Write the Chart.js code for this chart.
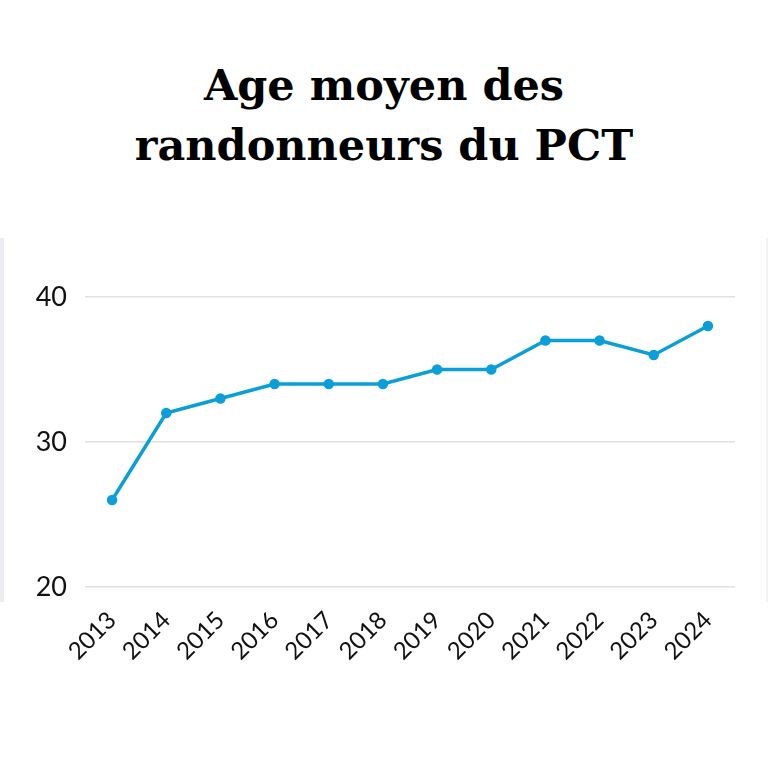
<!DOCTYPE html>
<html>
<head>
<meta charset="utf-8">
<script src="https://cdn.jsdelivr.net/npm/chart.js@4"></script>
<style>
  body { margin: 0; background: #fff; }
  #page { position: relative; width: 768px; height: 768px; overflow: hidden; }
  #title {
    position: absolute; top: 55px; left: 0; width: 768px;
    text-align: center; font-family: "DejaVu Serif", serif; font-weight: bold;
    font-size: 43px; line-height: 60px; color: #000;
  }
  #edgeLeft { position: absolute; left: 0; top: 238px; width: 4px; height: 364px; background: #ebebf2; }
  #edgeRight { position: absolute; right: 0; top: 238px; width: 2px; height: 364px; background: #f2f2f5; }
  #box { position: absolute; left: 0; top: 240px; width: 768px; height: 440px; }
</style>
</head>
<body>
<div id="page">
  <div id="title">Age moyen des<br>randonneurs du PCT</div>
  <div id="edgeLeft"></div>
  <div id="edgeRight"></div>
  <div id="box"><canvas id="line-chart"></canvas></div>
</div>
<script>
// DATA
const years = ['2013', '2014', '2015', '2016', '2017', '2018', '2019', '2020', '2021', '2022', '2023', '2024'];
const ageMoyen = [26, 32, 33, 34, 34, 34, 35, 35, 37, 37, 36, 38];
const yTicks = [20, 30, 40];

const ctx = document.querySelector('#line-chart');
const ageChart = new Chart(
    ctx, {
        type: 'line',
        data: {
            labels: years,
            datasets: [{
                label: 'Age moyen',
                data: ageMoyen,
                borderColor: '#0a9fd8',
                backgroundColor: '#0a9fd8',
                borderWidth: 3.5,
                pointRadius: 3.5,
                pointHoverRadius: 4,
                tension: 0
            }]
        },
        options: {
            responsive: true,
            maintainAspectRatio: false,
            animation: false,
            layout: {
                padding: { top: 57, right: 33, bottom: 0, left: 0 }
            },
            plugins: {
                legend: { display: false },
                tooltip: { enabled: false }
            },
            scales: {
                x: {
                    offset: true,
                    afterFit: function(axis) { axis.height = 93; },
                    grid: { display: false, drawTicks: false },
                    border: { display: false },
                    ticks: {
                        color: '#111',
                        font: { family: 'Lato', size: 24 },
                        maxRotation: 45,
                        minRotation: 45,
                        padding: 19
                    }
                },
                y: {
                    min: 20,
                    max: 40,
                    afterFit: function(axis) { axis.width = 85; },
                    afterBuildTicks: function(axis) {
                        axis.ticks = yTicks.map(function(v) { return { value: v }; });
                    },
                    grid: { color: '#e0e0e0', lineWidth: 1.5, drawTicks: false },
                    border: { display: false },
                    ticks: {
                        color: '#111',
                        font: { family: 'Lato', size: 27 },
                        padding: 18
                    }
                }
            }
        }
    }
)
</script>
</body>
</html>
